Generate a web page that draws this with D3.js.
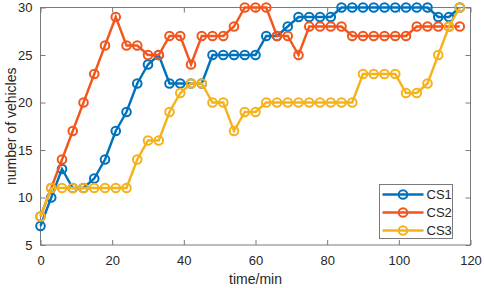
<!DOCTYPE html>
<html>
<head>
<meta charset="utf-8">
<script src="https://cdn.jsdelivr.net/npm/d3@7"></script>
<style>
  body { margin: 0; background: #fff; }
  svg { display: block; font-family: "Liberation Sans", Arial, sans-serif; }
</style>
</head>
<body>
<svg id="chart" width="484" height="288"></svg>
<script>
// time in minutes, one sample every 3 min
const times = d3.range(0, 120, 3);

const cs1 = [7, 10, 13, 11, 11, 12, 14, 17, 19, 22, 24, 25, 22, 22, 22, 22, 25, 25, 25, 25,
             25, 27, 27, 28, 29, 29, 29, 29, 30, 30, 30, 30, 30, 30, 30, 30, 30, 29, 29, 30];
const cs2 = [8, 11, 14, 17, 20, 23, 26, 29, 26, 26, 25, 25, 27, 27, 24, 27, 27, 27, 28, 30,
             30, 30, 27, 27, 25, 28, 28, 28, 28, 27, 27, 27, 27, 27, 27, 28, 28, 28, 28, 28];
const cs3 = [8, 11, 11, 11, 11, 11, 11, 11, 11, 14, 16, 16, 19, 21, 22, 22, 20, 20, 17, 19,
             19, 20, 20, 20, 20, 20, 20, 20, 20, 20, 23, 23, 23, 23, 21, 21, 22, 25, 28, 30];

const seriesNames = ['CS1', 'CS2', 'CS3'];
const colors = ['#0072BD', '#F2561D', '#F5B21A'];
const xTicks = [0, 20, 40, 60, 80, 100, 120];
const yTicks = [5, 10, 15, 20, 25, 30];

const svg = d3.select('#chart');
const margin = { left: 40.5, right: 13.5, top: 7.5, bottom: 43 };
const width = 484 - margin.left - margin.right;
const height = 288 - margin.top - margin.bottom;

const g = svg.append('g').attr('transform', `translate(${margin.left},${margin.top})`);

const x = d3.scaleLinear().domain([0, 120]).range([0, width]);
const y = d3.scaleLinear().domain([5, 30]).range([height, 0]);

const axisColor = '#7a7a7a';
const textColor = '#262626';

// box
g.append('rect')
  .attr('width', width).attr('height', height)
  .attr('fill', 'none').attr('stroke', axisColor).attr('stroke-width', 1);

function styleAxis(sel) {
  sel.select('.domain').remove();
  sel.selectAll('line').attr('stroke', axisColor);
  sel.selectAll('text').attr('fill', textColor).style('font-size', '13px');
}

g.append('g').attr('transform', `translate(0,${height})`)
  .call(d3.axisBottom(x).tickValues(xTicks).tickSize(-5).tickPadding(11))
  .call(styleAxis);
g.append('g')
  .call(d3.axisTop(x).tickValues(xTicks).tickSize(-5).tickFormat(''))
  .call(styleAxis);
g.append('g')
  .call(d3.axisLeft(y).tickValues(yTicks).tickSize(-5).tickPadding(8))
  .call(styleAxis);
g.append('g').attr('transform', `translate(${width},0)`)
  .call(d3.axisRight(y).tickValues(yTicks).tickSize(-5).tickFormat(''))
  .call(styleAxis);

// axis labels
svg.append('text')
  .attr('x', margin.left + width / 2).attr('y', 284)
  .attr('text-anchor', 'middle').attr('fill', textColor)
  .style('font-size', '14px').text('time/min');
svg.append('text')
  .attr('transform', `translate(16,${margin.top + height / 2}) rotate(-90)`)
  .attr('text-anchor', 'middle').attr('fill', textColor)
  .style('font-size', '14px').text('number of vehicles');

// lines + markers
const allSeries = [cs1, cs2, cs3];
const line = d3.line().x((d, i) => x(times[i])).y(d => y(d));

allSeries.forEach((vals, k) => {
  g.append('path')
    .datum(vals)
    .attr('fill', 'none')
    .attr('stroke', colors[k])
    .attr('stroke-width', 2.4)
    .attr('d', line);
  g.selectAll(`.dot${k}`)
    .data(vals)
    .enter().append('circle')
    .attr('class', `dot${k}`)
    .attr('cx', (d, i) => x(times[i]))
    .attr('cy', d => y(d))
    .attr('r', 4.3)
    .attr('fill', 'none')
    .attr('stroke', colors[k])
    .attr('stroke-width', 2);
});

// legend
const legend = svg.append('g').attr('transform', 'translate(379.5,184.5)');
legend.append('rect')
  .attr('width', 73).attr('height', 54)
  .attr('fill', '#fff').attr('stroke', axisColor);
seriesNames.forEach((name, k) => {
  const ly = 10 + k * 18;
  legend.append('line')
    .attr('x1', 3).attr('x2', 44).attr('y1', ly).attr('y2', ly)
    .attr('stroke', colors[k]).attr('stroke-width', 2.4);
  legend.append('circle')
    .attr('cx', 23.5).attr('cy', ly).attr('r', 4.3)
    .attr('fill', 'none').attr('stroke', colors[k]).attr('stroke-width', 2);
  legend.append('text')
    .attr('x', 47).attr('y', ly + 4.5)
    .attr('fill', textColor).style('font-size', '13px').text(name);
});
</script>
</body>
</html>
